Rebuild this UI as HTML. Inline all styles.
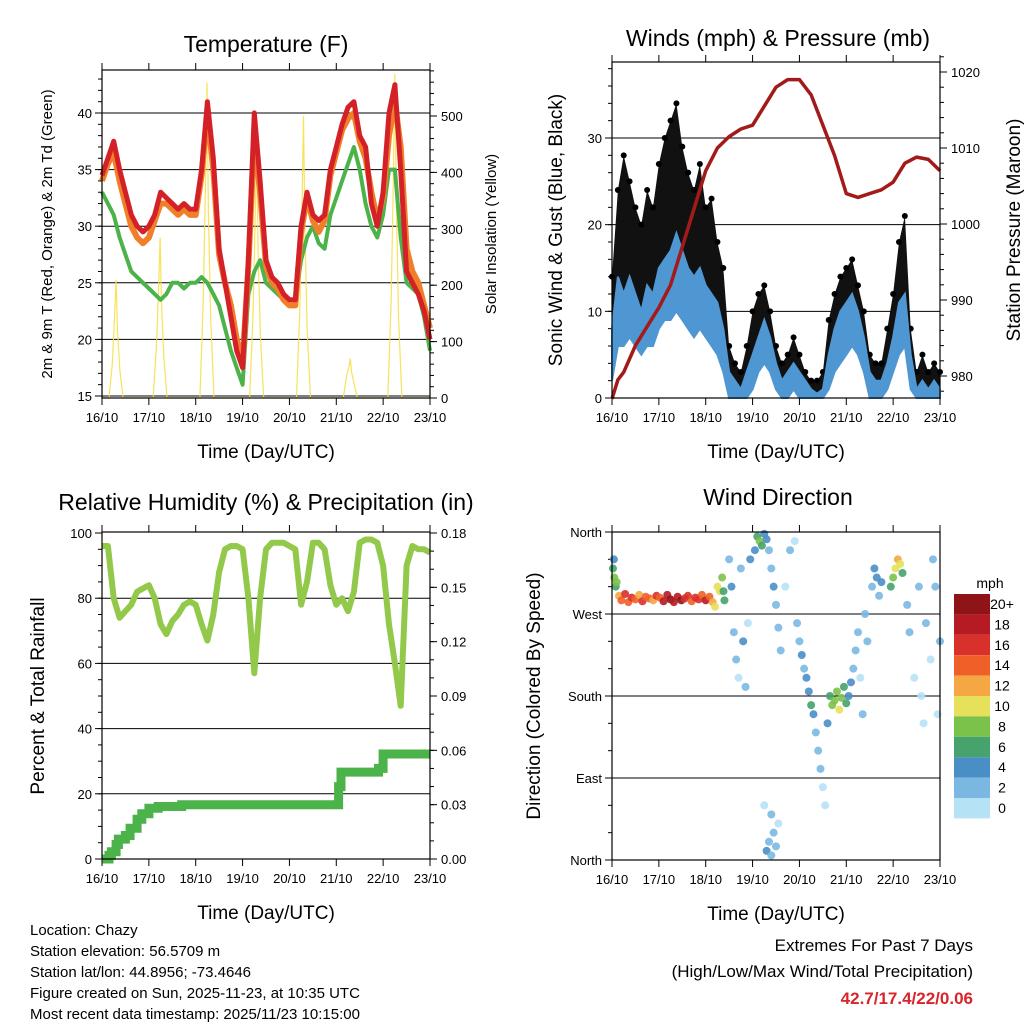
<!DOCTYPE html>
<html><head><meta charset="utf-8"><style>
body{margin:0;background:#fff}
svg{display:block;font-family:"Liberation Sans",sans-serif}
</style></head><body>
<svg id="s" width="1024" height="1024" viewBox="0 0 1024 1024"></svg>
<script>
// ---------- data ----------
const t3=[];for(let i=0;i<=56;i++)t3.push(i*0.125);
const tempRed=[34.5,36,37.5,35,33,31,30,29.5,30,31,33,32.5,32,31.5,32,31.5,31.5,35,41,36,28,25,22,19,17.5,27,40,34,27,25.5,25,24,23.5,23.5,30,33,31,30.5,31,35,37,39,40.5,41,38,37,32,30,33,40,42.5,35,26,25,24,22.5,20];
const tempOrange=[34,35.5,36.5,34,32,30,29,28.5,29,30.5,32,32,31.5,31,31.5,31,31,34.5,40,35,27.5,25,23,20,18,26.5,38,33,26.5,25,24.5,23.5,23,23,29.5,32.5,30.5,29.5,30.5,34.5,36.5,38.5,39.5,40,37.5,36,33,30.5,32.5,38,41,37,28,26,25,23,21];
const dewGreen=[33,32,31,29,27.5,26,25.5,25,24.5,24,23.5,24,25,25,24.5,25,25,25.5,25,24,23,21,19,17.5,16,24,26,27,25,24.5,24,23.5,23.5,23.5,27,29,30,28.5,28,31,32.5,34,35.5,37,35,32,30,29,31,35,35,29,25,24.5,24,22,19];
const solarT=[0,.15,.22,.27,.30,.33,.38,.45,1.09,1.16,1.21,1.24,1.27,1.32,1.39,2.09,2.16,2.21,2.24,2.27,2.32,2.39,3.15,3.22,3.27,3.30,3.33,3.38,3.45,4.15,4.22,4.27,4.30,4.33,4.38,4.45,5.15,5.22,5.27,5.30,5.33,5.38,5.45,6.1,6.17,6.22,6.25,6.28,6.33,6.4,7];
const solarV=[0,0,60,150,210,120,50,0,0,90,200,285,170,70,0,0,170,390,560,330,140,0,0,140,320,450,270,110,0,0,150,350,500,300,120,0,0,40,55,70,45,25,0,0,170,400,575,350,140,0,0];
const windSpd=[8,14,12,14,12,10,13,12,15,16,17,19,17,15,14,15,13,12,11,8,3,2,1,3,5,7,9,7,4,2,3,4,3,2,1,0.5,1,5,8,10,11,12,10,7,3,2,2,4,7,11,12,5,1,2,1,2,1];
const windLull=[2,6,6,7,6,5,6,6,8,9,9,10,9,8,7,8,7,6,5,3,0,0,0,0,1,3,4,3,1,0,0,1,0,0,0,0,0,1,3,4,5,6,5,3,0,0,0,1,3,5,6,1,0,0,0,0,0];
const windGust=[14,24,28,25,22,20,24,22,27,30,32,34,29,26,24,27,22,23,18,15,6,4,3,6,10,12,13,10,6,4,5,7,5,3,2,2,3,9,12,14,15,16,13,10,5,4,4,8,12,18,21,8,3,5,3,4,3];
const presT=[0,.125,.25,.5,.75,1,1.25,1.5,1.75,2,2.25,2.5,2.75,3,3.25,3.5,3.75,4,4.25,4.5,4.75,5,5.25,5.5,5.75,6,6.25,6.5,6.75,7];
const presV=[977,979.5,980.5,984,986.5,989,992,997,1002,1007,1010,1011.5,1012.5,1013,1015.5,1018,1019,1019,1017,1013,1009,1004,1003.5,1004,1004.5,1005.5,1008,1008.8,1008.5,1007];
const rh=[96,96,80,74,76,78,82,83,84,80,72,69,73,75,78,79,78,72,67,75,88,95,96,96,95,80,57,80,95,97,97,97,96,95,78,85,97,97,95,84,78,80,76,82,97,98,98,97,90,72,60,47,90,96,95,95,94];
const precipT=[0,.1,.15,.2,.3,.35,.5,.6,.75,.85,1.0,1.2,1.7,5.0,5.05,5.1,5.9,6.0,7];
const precipV=[0,0,.002,.004,.008,.011,.013,.017,.022,.025,.028,.029,.03,.03,.04,.048,.05,.058,.058];
const dirT=[0.02,0.05,0.08,0.04,0.1,0.15,0.2,0.28,0.35,0.42,0.5,0.58,0.65,0.72,0.8,0.88,0.95,1.02,1.1,1.18,1.25,1.32,1.4,1.48,1.55,1.62,1.7,1.78,1.85,1.92,2.0,2.08,2.15,2.2,2.25,2.3,2.35,2.38,2.4,2.5,2.55,2.6,2.65,2.7,2.75,2.8,2.85,2.9,2.95,3.05,3.1,3.15,3.2,3.25,3.3,3.35,3.4,3.45,3.5,3.55,3.6,3.7,3.8,3.9,3.3,3.35,3.4,3.45,3.5,3.55,3.4,3.25,3.95,4.0,4.05,4.1,4.15,4.2,4.25,4.3,4.35,4.4,4.45,4.5,4.55,4.6,4.65,4.7,4.75,4.8,4.85,4.9,4.95,5.0,5.05,5.1,5.15,5.2,5.25,5.3,5.35,5.4,5.45,5.55,5.6,5.65,5.7,5.75,5.95,6.0,6.05,6.1,6.15,6.2,6.3,6.35,6.45,6.55,6.6,6.7,6.8,6.9,6.95,7.0,6.85,6.65];
const dirD=[320,310,300,330,305,290,285,292,283,288,286,291,284,289,287,285,290,288,284,291,286,283,289,285,287,290,284,288,286,291,285,289,283,278,300,295,310,295,285,330,300,250,220,200,320,240,190,260,330,340,355,350,345,358,352,340,320,300,280,255,230,300,340,350,10,20,5,30,15,40,50,60,260,240,225,210,200,185,170,160,140,120,100,80,60,150,180,170,175,185,165,178,190,172,180,195,210,230,250,200,160,270,240,300,320,310,290,305,300,310,320,330,325,315,280,250,200,300,180,260,220,300,160,240,330,150];
const dirS=[7,8,6,5,9,12,14,16,15,17,14,12,16,15,14,13,16,15,18,19,20,19,18,20,17,16,15,16,17,15,18,14,13,11,11,10,8,6,7,3,4,2,3,1,2,4,3,1,4,5,7,8,7,4,5,3,3,4,2,3,2,1,2,1,4,2,2,3,2,1,2,1,2,3,4,3,4,5,6,4,3,2,2,1,1,4,7,8,9,8,10,9,7,6,4,4,3,2,3,1,2,3,2,3,4,5,3,4,6,8,10,12,11,7,3,2,1,2,1,2,1,3,1,2,2,1];
const xTickLabels=["16/10","17/10","18/10","19/10","20/10","21/10","22/10","23/10"];
const cbLabels=["20+","18","16","14","12","10","8","6","4","2","0"];
const cbColors=["#8e1418","#b61a22","#d8302a","#ef6028","#f5a743","#e7e05a","#7bc24b","#45a36b","#4a8ec6","#7ab8e2","#b6e2f6"];

// ---------- helpers ----------
const S=document.getElementById('s');const NS="http://www.w3.org/2000/svg";
function el(tag,attrs,parent){const e=document.createElementNS(NS,tag);for(const k in attrs)e.setAttribute(k,attrs[k]);(parent||S).appendChild(e);return e;}
function txt(x,y,s,size,anchor,rot,name,extra){const e=el('text',{x:x,y:y,'font-size':size,'text-anchor':anchor||'middle',fill:'#000'});if(rot)e.setAttribute('transform','rotate(-90 '+x+' '+y+')');if(extra)for(const k in extra)e.setAttribute(k,extra[k]);e.textContent=s;


return e;}
function lin(d0,d1,p0,p1){return v=>p0+(v-d0)/(d1-d0)*(p1-p0);}
function poly(xs,ys,fx,fy){return xs.map((v,i)=>fx(v).toFixed(1)+','+fy(ys[i]).toFixed(1)).join(' ');}

function panel(P,name){
  const g=el('g',{});
  
  
  P.g=g;P.fx=lin(0,7,P.x0,P.x1);return P;}
function frame(P){el('rect',{x:P.x0,y:P.y0,width:P.x1-P.x0,height:P.y1-P.y0,fill:'none',stroke:'#000','stroke-width':1.2},P.g);
  for(let i=0;i<=7;i++){const x=P.fx(i);
    el('line',{x1:x,x2:x,y1:P.y1,y2:P.y1+7,stroke:'#000'},P.g);el('line',{x1:x,x2:x,y1:P.y0,y2:P.y0-7,stroke:'#000'},P.g);
    txt(x,P.y1+24,xTickLabels[i],13,'middle',0,'x-tick-label');}
  txt((P.x0+P.x1)/2,P.y1+60,'Time (Day/UTC)',19,'middle',0,'x-axis-title');}
function yTicks(P,fy,vals,labels,side,minor,grid){
  vals.forEach((v,i)=>{const y=fy(v);
    if(grid&&y>P.y0+1&&y<P.y1-1)el('line',{x1:P.x0,x2:P.x1,y1:y,y2:y,stroke:'#000','stroke-width':1},P.g);
    if(side==='l'){el('line',{x1:P.x0-7,x2:P.x0,y1:y,y2:y,stroke:'#000'},P.g);txt(P.x0-10,y+5,labels[i],13,'end',0,'y-tick-label');}
    else{el('line',{x1:P.x1,x2:P.x1+7,y1:y,y2:y,stroke:'#000'},P.g);txt(P.x1+11,y+5,labels[i],13,'start',0,'y2-tick-label');}});
  (minor||[]).forEach(v=>{const y=fy(v);if(side==='l')el('line',{x1:P.x0-4,x2:P.x0,y1:y,y2:y,stroke:'#000'},P.g);else el('line',{x1:P.x1,x2:P.x1+4,y1:y,y2:y,stroke:'#000'},P.g);});
}
function range(a,b,s){const r=[];for(let v=a;v<=b+1e-9;v+=s)r.push(+v.toFixed(4));return r;}

// ---------- Temperature ----------
let P=panel({x0:102,x1:430,y0:70,y1:398},'temperature-panel');
let fy=lin(15,40,396,113);const fs=lin(0,500,398,116);
yTicks(P,fy,[15,20,25,30,35,40],['15','20','25','30','35','40'],'l',range(16,43,1),true);
yTicks(P,fs,[0,100,200,300,400,500],['0','100','200','300','400','500'],'r',range(20,580,20),false);
let e=el('polyline',{points:poly(solarT,solarV,P.fx,fs),fill:'none',stroke:'#f7df4a','stroke-width':1.2,opacity:.9},P.g);

e=el('polyline',{points:poly(t3,dewGreen,P.fx,fy),fill:'none',stroke:'#4cb24a','stroke-width':4,'stroke-linejoin':'round'},P.g);

e=el('polyline',{points:poly(t3,tempOrange,P.fx,fy),fill:'none',stroke:'#f07f2a','stroke-width':6,'stroke-linejoin':'round'},P.g);

e=el('polyline',{points:poly(t3,tempRed,P.fx,fy),fill:'none',stroke:'#d42128','stroke-width':5,'stroke-linejoin':'round'},P.g);

frame(P);
txt(266,52,'Temperature (F)',23,'middle',0,'temperature-title');
txt(52,234,'2m & 9m T (Red, Orange) & 2m Td (Green)',15,'middle',1,'temperature-y-axis-title');
txt(496,234,'Solar Insolation (Yellow)',15,'middle',1,'solar-y-axis-title');

// ---------- Winds ----------
P=panel({x0:612,x1:940,y0:62,y1:398},'winds-panel');
fy=lin(0,30,398,138);const fp=lin(980,1020,376,72);
yTicks(P,fy,[0,10,20,30],['0','10','20','30'],'l',range(2,38,2),true);
yTicks(P,fp,[980,990,1000,1010,1020],['980','990','1000','1010','1020'],'r',range(978,1022,2),false);
const gustPts=t3.map((t,i)=>P.fx(t).toFixed(1)+','+fy(windGust[i]).toFixed(1)).join(' ')+' '+t3.slice().reverse().map((t,j)=>P.fx(t).toFixed(1)+','+fy(windSpd[56-j]).toFixed(1)).join(' ');
e=el('polygon',{points:gustPts,fill:'#111'},P.g);

t3.forEach((t,i)=>{const c=el('circle',{cx:P.fx(t),cy:fy(windGust[i]),r:3,fill:'#000'},P.g);

});
const windPts=t3.map((t,i)=>P.fx(t).toFixed(1)+','+fy(windSpd[i]).toFixed(1)).join(' ')+' '+t3.slice().reverse().map((t,j)=>P.fx(t).toFixed(1)+','+fy(windLull[56-j]).toFixed(1)).join(' ');
e=el('polygon',{points:windPts,fill:'#4f97d2',stroke:'#4f97d2','stroke-width':2},P.g);

e=el('polyline',{points:poly(presT,presV,P.fx,fp),fill:'none',stroke:'#a31a1a','stroke-width':3.5,'stroke-linejoin':'round'},P.g);

frame(P);
txt(778,46,'Winds (mph) & Pressure (mb)',23,'middle',0,'winds-title');
txt(562,230,'Sonic Wind & Gust (Blue, Black)',19,'middle',1,'wind-y-axis-title');
txt(1020,230,'Station Pressure (Maroon)',19,'middle',1,'pressure-y-axis-title');

// ---------- RH ----------
P=panel({x0:102,x1:430,y0:532,y1:859},'humidity-panel');
fy=lin(0,100,859,533);const fr=lin(0,0.18,859,533);
yTicks(P,fy,[0,20,40,60,80,100],['0','20','40','60','80','100'],'l',range(5,100,5),true);
yTicks(P,fr,[0,.03,.06,.09,.12,.15,.18],['0.00','0.03','0.06','0.09','0.12','0.15','0.18'],'r',range(.01,.18,.01),false);
const stepX=[],stepY=[];precipT.forEach((t,i)=>{if(i>0){stepX.push(t);stepY.push(precipV[i-1]);}stepX.push(t);stepY.push(precipV[i]);});
e=el('polyline',{points:poly(stepX,stepY,P.fx,fr),fill:'none',stroke:'#4cb24a','stroke-width':9},P.g);

e=el('polyline',{points:poly(t3,rh,P.fx,fy),fill:'none',stroke:'#93c94a','stroke-width':6,'stroke-linejoin':'round'},P.g);

frame(P);
txt(266,510,'Relative Humidity (%) & Precipitation (in)',23,'middle',0,'humidity-title');
txt(44,696,'Percent & Total Rainfall',19,'middle',1,'humidity-y-axis-title');

// ---------- Wind direction ----------
P=panel({x0:612,x1:940,y0:532,y1:860},'wind-direction-panel');
fy=lin(0,360,860,532);
yTicks(P,fy,[0,90,180,270,360],['North','East','South','West','North'],'l',range(30,330,30),true);
function spdColor(s){const i=Math.max(0,Math.min(10,10-Math.floor(s/2)));return cbColors[i];}
dirT.forEach((t,i)=>{const c=el('circle',{cx:P.fx(t),cy:fy(dirD[i]),r:4,fill:spdColor(dirS[i]),opacity:.9},P.g);

});
frame(P);
txt(778,505,'Wind Direction',23,'middle',0,'wind-direction-title');
txt(540,696,'Direction (Colored By Speed)',19,'middle',1,'direction-y-axis-title');
txt(990,588,'mph',14,'middle',0,'colorbar-title');
cbColors.forEach((c,i)=>{const r=el('rect',{x:954,y:594+i*20.4,width:36,height:20.4,fill:c});


txt(1002,609+i*20.4,cbLabels[i],14,'middle',0,'colorbar-label');});

// ---------- footer ----------
['Location: Chazy','Station elevation: 56.5709 m','Station lat/lon: 44.8956; -73.4646','Figure created on Sun, 2025-11-23, at 10:35 UTC','Most recent data timestamp: 2025/11/23 10:15:00'].forEach((s,i)=>txt(30,935+i*21,s,15,'start',0,'station-info-line'));
txt(973,951,'Extremes For Past 7 Days',17,'end',0,'extremes-heading');
txt(973,977,'(High/Low/Max Wind/Total Precipitation)',17,'end',0,'extremes-subheading');
txt(973,1004,'42.7/17.4/22/0.06',17,'end',0,'extremes-values',{fill:'#d8242a','font-weight':'bold'});
</script>
</body></html>
